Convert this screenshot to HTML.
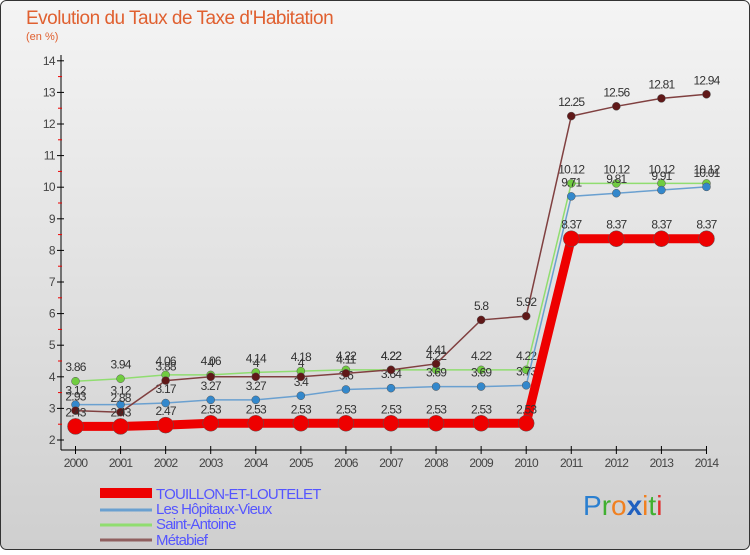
<!DOCTYPE html>
<html><head><meta charset="utf-8"><style>
body{margin:0;width:750px;height:550px;overflow:hidden;font-family:"Liberation Sans",sans-serif}
</style></head><body>
<svg width="750" height="550" xmlns="http://www.w3.org/2000/svg">
<defs><linearGradient id="bg" x1="0" y1="0" x2="0" y2="1"><stop offset="0" stop-color="#f4f4f4"/><stop offset="1" stop-color="#cfcfcf"/></linearGradient></defs>
<rect x="0.5" y="0.5" width="749" height="549" rx="6" fill="url(#bg)" stroke="#333"/>
<text x="26" y="24" font-size="19" fill="#e06030" letter-spacing="-0.5">Evolution du Taux de Taxe d'Habitation</text>
<text x="26" y="40" font-size="11" fill="#e06030">(en %)</text>
<g id="axes"></g><g id="series"></g>
<g>
<line x1="100" y1="493" x2="152" y2="493" stroke="#e00" stroke-width="10"/>
<text x="156" y="499" font-size="15" fill="#5555ff" letter-spacing="-0.8">TOUILLON-ET-LOUTELET</text>
<line x1="100" y1="510" x2="152" y2="510" stroke="#6aa0d0" stroke-width="3"/>
<text x="156" y="514" font-size="15" fill="#5555ff" letter-spacing="-0.8">Les Hôpitaux-Vieux</text>
<line x1="100" y1="525" x2="152" y2="525" stroke="#90dd70" stroke-width="3"/>
<text x="156" y="529" font-size="15" fill="#5555ff" letter-spacing="-0.8">Saint-Antoine</text>
<line x1="100" y1="540" x2="152" y2="540" stroke="#906060" stroke-width="3"/>
<text x="156" y="545" font-size="15" fill="#5555ff" letter-spacing="-0.8">Métabief</text>
</g>
<g font-size="28">
<text x="583" y="515"><tspan fill="#2a7fd0">P</tspan><tspan fill="#40b030">r</tspan><tspan fill="#f08020">o</tspan><tspan fill="#2060c0" font-weight="bold">x</tspan><tspan fill="#f08020">i</tspan><tspan fill="#40b030">t</tspan><tspan fill="#e03030">i</tspan></text>
</g>
</svg>
<script>
const years=[2000,2001,2002,2003,2004,2005,2006,2007,2008,2009,2010,2011,2012,2013,2014];
const touillon=[2.43,2.43,2.47,2.53,2.53,2.53,2.53,2.53,2.53,2.53,2.53,8.37,8.37,8.37,8.37];
const hopitaux=[3.12,3.12,3.17,3.27,3.27,3.4,3.6,3.64,3.69,3.69,3.73,9.71,9.81,9.91,10.01];
const saintAntoine=[3.86,3.94,4.06,4.06,4.14,4.18,4.22,4.22,4.22,4.22,4.22,10.12,10.12,10.12,10.12];
const metabief=[2.93,2.88,3.88,4,4,4,4.11,4.22,4.41,5.8,5.92,12.25,12.56,12.81,12.94];
const yTicks=[2,3,4,5,6,7,8,9,10,11,12,13,14];
const NS="http://www.w3.org/2000/svg";
const X=i=>75.5+i*45.07, Y=v=>440-(v-2)*31.6;
function mk(t,a,p){const e=document.createElementNS(NS,t);for(const k in a)e.setAttribute(k,a[k]);p.appendChild(e);return e;}
const ax=document.getElementById('axes');
let l=mk('line',{x1:61,y1:55,x2:61,y2:450,stroke:'#000'},ax);


l=mk('line',{x1:61,y1:450,x2:706,y2:450,stroke:'#000'},ax);


yTicks.forEach(v=>{mk('line',{x1:57,y1:Y(v),x2:64,y2:Y(v),stroke:'#000'},ax);
 if(v<14)mk('line',{x1:58,y1:Y(v+0.5),x2:62,y2:Y(v+0.5),stroke:'#e00'},ax);
 const t=mk('text',{x:55,y:Y(v)+4,'font-size':12,fill:'#444','text-anchor':'end','letter-spacing':'-0.6'},ax);t.textContent=v;
 
 });
years.forEach((y,i)=>{mk('line',{x1:X(i),y1:446,x2:X(i),y2:454,stroke:'#000'},ax);
 const t=mk('text',{x:X(i),y:467,'font-size':12,fill:'#444','text-anchor':'middle','letter-spacing':'-0.8'},ax);t.textContent=y;
 
 });
const sg=document.getElementById('series');
function series(d,name,col,dot,w,r){
 const g=mk('g',{},sg);
 
 
 mk('polyline',{points:d.map((v,i)=>X(i)+','+Y(v)).join(' '),fill:'none',stroke:col,'stroke-width':w},g);
 d.forEach((v,i)=>{const c=mk('circle',{cx:X(i),cy:Y(v),r:r,fill:dot,stroke:'#555','stroke-width':0.5},g);
  
  
  const t=mk('text',{x:X(i),y:Y(v)-10,'font-size':12,fill:'#333','text-anchor':'middle','letter-spacing':'-0.8'},g);t.textContent=v;
  
  });
}
series(saintAntoine,'saint-antoine','#90dd70','#70cc40',1.5,4);
series(hopitaux,'hopitaux-vieux','#6aa0d0','#3388cc',1.5,4);
series(metabief,'metabief','#804040','#601818',1.5,4);
series(touillon,'touillon','#e00','#e00',9,8);
</script>
</body></html>
